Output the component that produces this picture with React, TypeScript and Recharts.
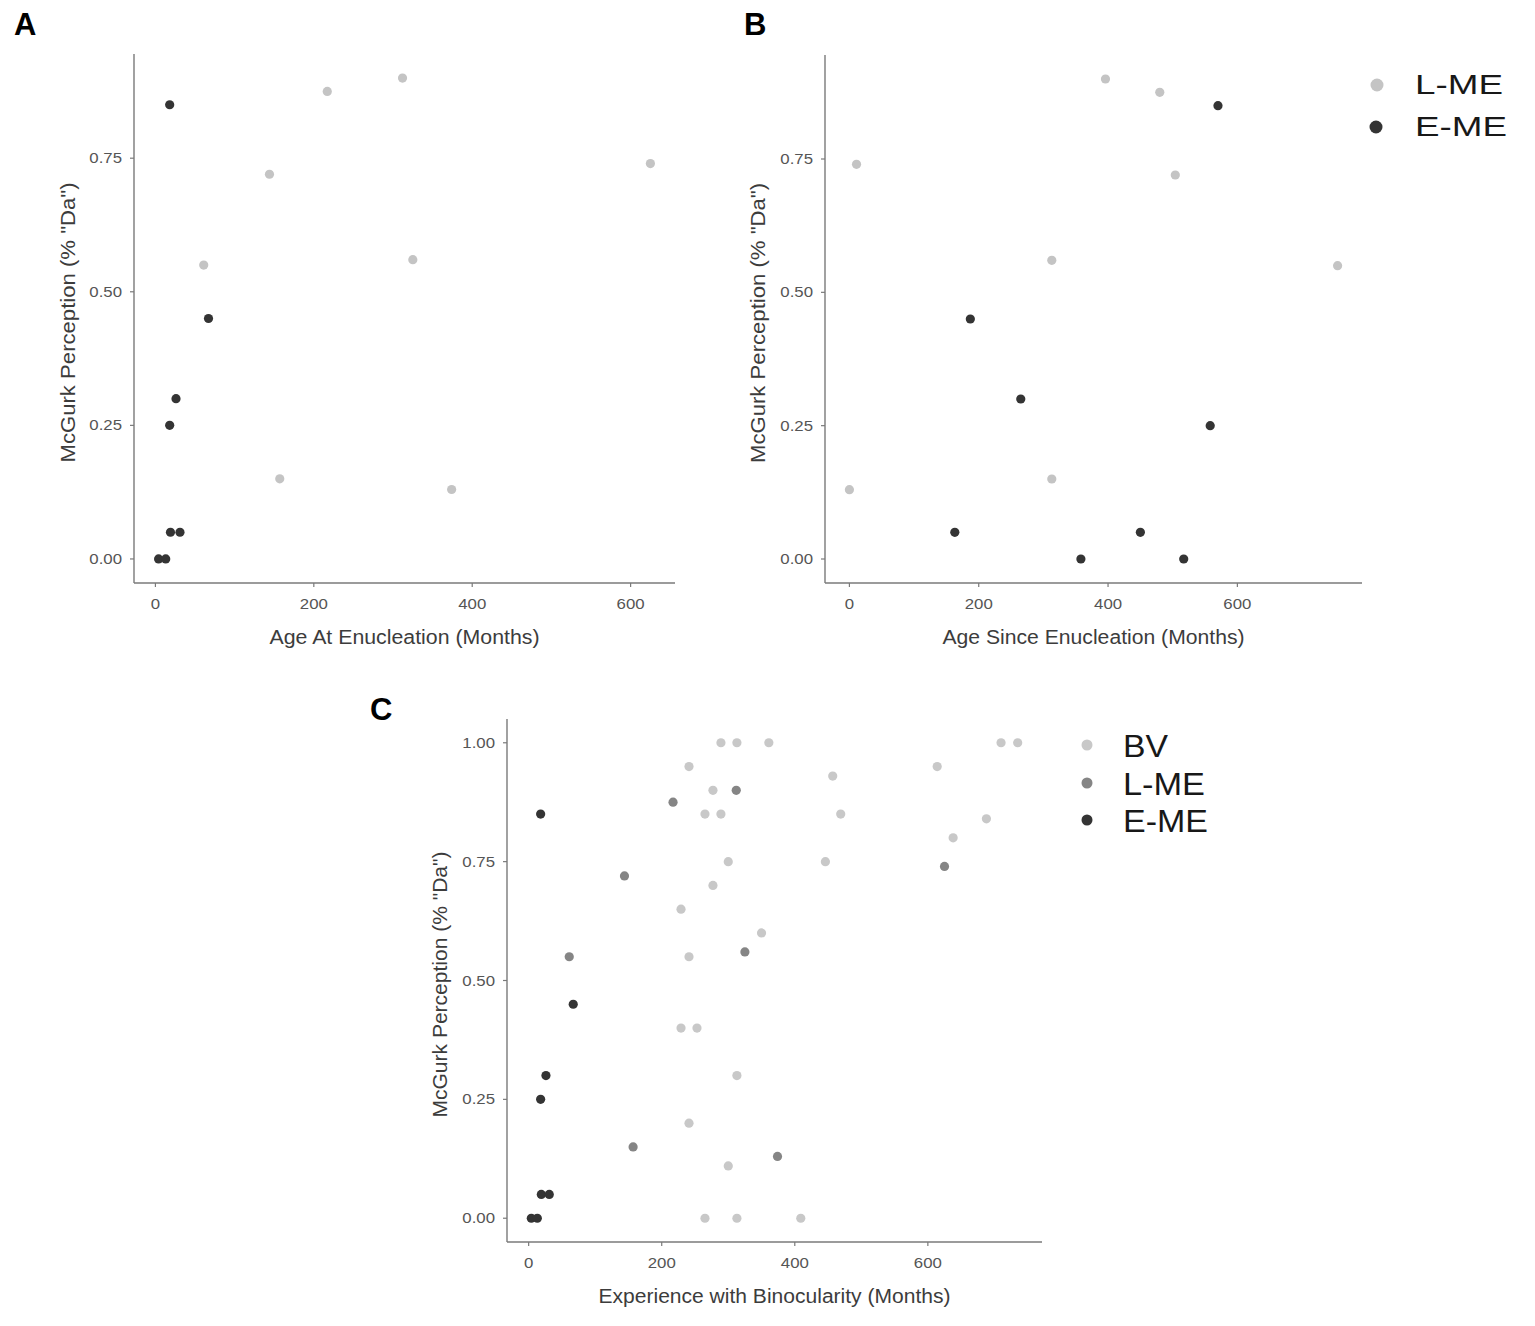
import { ScatterChart, Scatter, XAxis, YAxis } from "recharts";

// Late monocular enucleation (L-ME)
const lmeScore = [0.9, 0.875, 0.74, 0.72, 0.56, 0.55, 0.15, 0.13];
const lmeAgeAt = [312, 217, 625, 144, 325, 61, 157, 374];
const lmeAgeSince = [396, 480, 11, 504, 313, 755, 313, 0];

// Early monocular enucleation (E-ME)
const emeScore = [0.85, 0.45, 0.3, 0.25, 0.05, 0.05, 0, 0];
const emeAgeAt = [18, 67, 26, 18, 19, 31, 4, 13];
const emeAgeSince = [570, 187, 265, 558, 163, 450, 358, 517];

// Binocular viewing controls (BV)
const bvExperience = [
  289, 313, 361, 710, 735, 241, 614, 457, 277, 265, 289, 469, 688, 638, 300, 446, 277, 229, 350, 241, 229,
  253, 313, 241, 300, 265, 313, 409,
];
const bvScore = [
  1, 1, 1, 1, 1, 0.95, 0.95, 0.93, 0.9, 0.85, 0.85, 0.85, 0.84, 0.8, 0.75, 0.75, 0.7, 0.65, 0.6, 0.55, 0.4,
  0.4, 0.3, 0.2, 0.11, 0, 0, 0,
];

const monthTicks = [0, 200, 400, 600];
const scoreTicksAB = [0, 0.25, 0.5, 0.75];
const scoreTicksC = [0, 0.25, 0.5, 0.75, 1];

const FONT = "'Liberation Sans', Arial, Helvetica, sans-serif";
const LIGHT = "#c4c4c4";
const MID = "#858585";
const DARK = "#343434";
const AXIS = "#7a7a7a";
const TICK = "#555";
const TITLE = "#3c3c3c";

type Pt = { x: number; y: number };
const zip = (xs: number[], ys: number[]): Pt[] => xs.map((x, i) => ({ x, y: ys[i] }));

// ggplot style 5% expansion
const expand = (vals: number[]): [number, number] => {
  const lo = Math.min(...vals);
  const hi = Math.max(...vals);
  const pad = (hi - lo) * 0.05;
  return [lo - pad, hi + pad];
};

const dot = (color: string) => (p: any) => <circle cx={p.cx} cy={p.cy} r={4.6} fill={color} />;

const xTick = (p: any) => (
  <text
    transform={`translate(${p.x},${p.y + 16}) scale(1.2,1)`}
    textAnchor="middle"
    fontSize={14}
    fontFamily={FONT}
    fill={TICK}
  >
    {p.payload.value}
  </text>
);

const yTick = (p: any) => (
  <text
    transform={`translate(${p.x},${p.y + 5}) scale(1.2,1)`}
    textAnchor="end"
    fontSize={14}
    fontFamily={FONT}
    fill={TICK}
  >
    {Number(p.payload.value).toFixed(2)}
  </text>
);

type Box = { left: number; top: number; width: number; height: number };
type Plot = { l: number; t: number; r: number; b: number };
type Series = { data: Pt[]; color: string; name: string };

type PanelProps = {
  box: Box;
  plot: Plot;
  xDomain: [number, number];
  yDomain: [number, number];
  yTicks: number[];
  xTitle: string;
  xTitleLen: number;
  yTitleX: number;
  yTitleLen: number;
  series: Series[];
};

function Panel({ box, plot, xDomain, yDomain, yTicks, xTitle, xTitleLen, yTitleX, yTitleLen, series }: PanelProps) {
  const cx = (plot.l + plot.r) / 2 - box.left;
  const cy = (plot.t + plot.b) / 2 - box.top + 4;
  const xTitleEl = () => (
    <text
      x={cx}
      y={plot.b + 61 - box.top}
      textAnchor="middle"
      fontSize={20}
      fontFamily={FONT}
      fill={TITLE}
      textLength={xTitleLen}
      lengthAdjust="spacingAndGlyphs"
    >
      {xTitle}
    </text>
  );
  const yTitleEl = () => (
    <text
      transform={`translate(${yTitleX - box.left},${cy}) rotate(-90)`}
      textAnchor="middle"
      fontSize={20}
      fontFamily={FONT}
      fill={TITLE}
      textLength={yTitleLen}
      lengthAdjust="spacingAndGlyphs"
    >
      McGurk Perception (% "Da")
    </text>
  );
  return (
    <div style={{ position: "absolute", left: box.left, top: box.top }}>
      <ScatterChart
        width={box.width}
        height={box.height}
        margin={{ top: plot.t - box.top, right: box.left + box.width - plot.r, bottom: 0, left: 0 }}
      >
        <XAxis
          type="number"
          dataKey="x"
          domain={xDomain}
          ticks={monthTicks}
          allowDataOverflow
          height={box.top + box.height - plot.b}
          tickSize={4}
          tickMargin={6}
          axisLine={{ stroke: AXIS, strokeWidth: 1.4 }}
          tickLine={{ stroke: AXIS, strokeWidth: 1.2 }}
          tick={xTick}
          label={xTitleEl}
        />
        <YAxis
          type="number"
          dataKey="y"
          domain={yDomain}
          ticks={yTicks}
          allowDataOverflow
          width={plot.l - box.left}
          tickSize={4}
          tickMargin={8}
          axisLine={{ stroke: AXIS, strokeWidth: 1.4 }}
          tickLine={{ stroke: AXIS, strokeWidth: 1.2 }}
          tick={yTick}
          label={yTitleEl}
        />
        {series.map((s) => (
          <Scatter key={s.name} name={s.name} data={s.data} shape={dot(s.color)} isAnimationActive={false} />
        ))}
      </ScatterChart>
    </div>
  );
}

export default function App() {
  const lmeAt = zip(lmeAgeAt, lmeScore);
  const emeAt = zip(emeAgeAt, emeScore);
  const lmeSince = zip(lmeAgeSince, lmeScore);
  const emeSince = zip(emeAgeSince, emeScore);
  const bv = zip(bvExperience, bvScore);

  const yAB = expand([...lmeScore, ...emeScore]);
  const yC = expand([...bvScore, ...lmeScore, ...emeScore]);

  return (
    <div
      style={{
        position: "absolute",
        left: 0,
        top: 0,
        width: 1535,
        height: 1326,
        overflow: "hidden",
        background: "#fff",
      }}
    >
      <Panel
        box={{ left: 0, top: 0, width: 720, height: 670 }}
        plot={{ l: 134, t: 54, r: 675, b: 583 }}
        xDomain={expand([...lmeAgeAt, ...emeAgeAt])}
        yDomain={yAB}
        yTicks={scoreTicksAB}
        xTitle="Age At Enucleation (Months)"
        xTitleLen={270}
        yTitleX={75}
        yTitleLen={280}
        series={[
          { name: "L-ME", data: lmeAt, color: LIGHT },
          { name: "E-ME", data: emeAt, color: DARK },
        ]}
      />
      <Panel
        box={{ left: 700, top: 0, width: 835, height: 670 }}
        plot={{ l: 825, t: 55, r: 1362, b: 583 }}
        xDomain={expand([...lmeAgeSince, ...emeAgeSince])}
        yDomain={yAB}
        yTicks={scoreTicksAB}
        xTitle="Age Since Enucleation (Months)"
        xTitleLen={302}
        yTitleX={765}
        yTitleLen={280}
        series={[
          { name: "L-ME", data: lmeSince, color: LIGHT },
          { name: "E-ME", data: emeSince, color: DARK },
        ]}
      />
      <Panel
        box={{ left: 360, top: 670, width: 900, height: 650 }}
        plot={{ l: 507, t: 719, r: 1042, b: 1242 }}
        xDomain={expand([...bvExperience, ...lmeAgeAt, ...emeAgeAt])}
        yDomain={yC}
        yTicks={scoreTicksC}
        xTitle="Experience with Binocularity (Months)"
        xTitleLen={352}
        yTitleX={447}
        yTitleLen={266}
        series={[
          { name: "BV", data: bv, color: "#c8c8c8" },
          { name: "L-ME", data: lmeAt, color: MID },
          { name: "E-ME", data: emeAt, color: DARK },
        ]}
      />

      {/* panel letters and legends */}
      <svg
        width={1535}
        height={1326}
        style={{ position: "absolute", left: 0, top: 0, pointerEvents: "none" }}
        fontFamily={FONT}
      >
        <text x={14} y={35} fontSize={31} fontWeight="bold" fill="#000">A</text>
        <text x={744} y={35} fontSize={31} fontWeight="bold" fill="#000">B</text>
        <text x={370} y={720} fontSize={31} fontWeight="bold" fill="#000">C</text>

        <circle cx={1377} cy={85} r={6.5} fill={LIGHT} />
        <text x={1415} y={94} fontSize={28} fill="#181818" textLength={88} lengthAdjust="spacingAndGlyphs">L-ME</text>
        <circle cx={1376} cy={127} r={6.5} fill={DARK} />
        <text x={1415} y={135.5} fontSize={28} fill="#181818" textLength={92} lengthAdjust="spacingAndGlyphs">E-ME</text>

        <circle cx={1087} cy={745} r={5.5} fill="#c8c8c8" />
        <text x={1123} y={756.5} fontSize={31} fill="#181818" textLength={45} lengthAdjust="spacingAndGlyphs">BV</text>
        <circle cx={1087} cy={783} r={5.5} fill={MID} />
        <text x={1123} y={794.5} fontSize={31} fill="#181818" textLength={82} lengthAdjust="spacingAndGlyphs">L-ME</text>
        <circle cx={1087} cy={820} r={5.5} fill={DARK} />
        <text x={1123} y={832} fontSize={31} fill="#181818" textLength={85} lengthAdjust="spacingAndGlyphs">E-ME</text>
      </svg>
    </div>
  );
}
